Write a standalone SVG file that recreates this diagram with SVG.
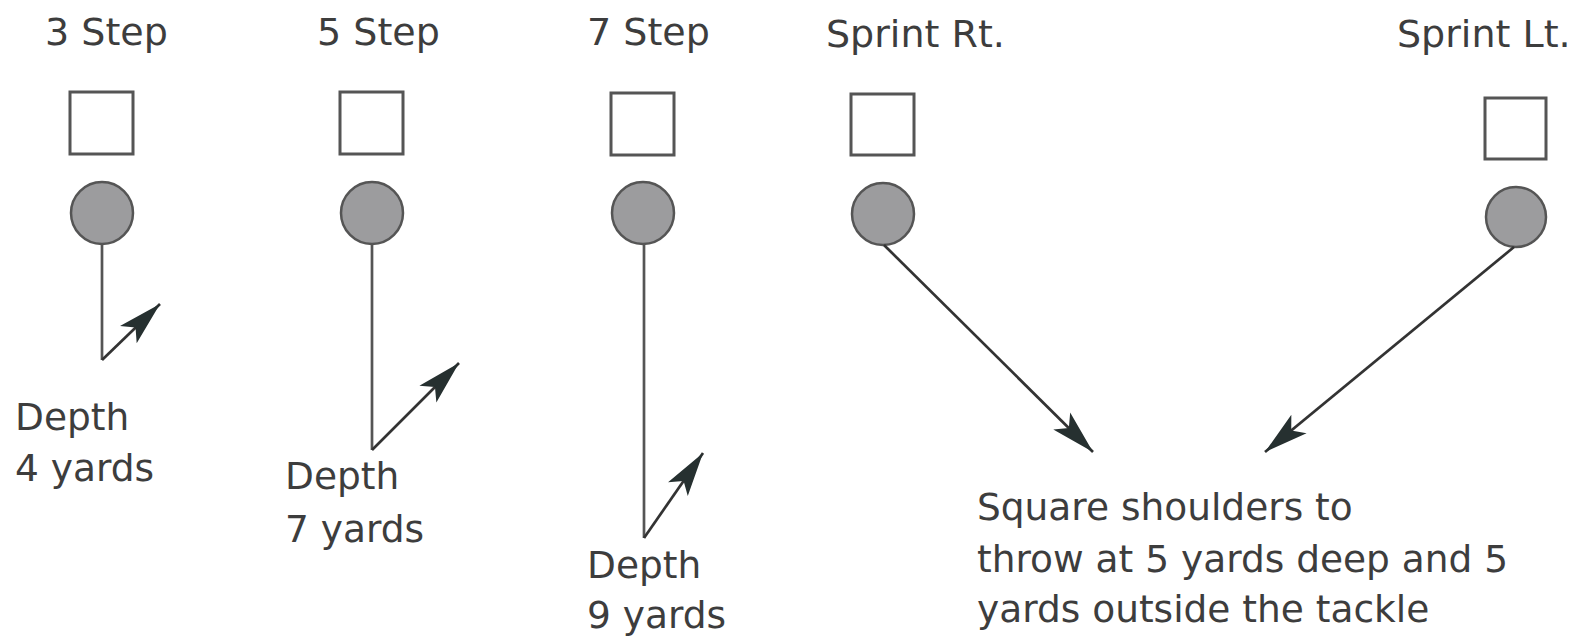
<svg xmlns="http://www.w3.org/2000/svg" width="1581" height="640" viewBox="0 0 1581 640">
<style>
text{font-family:"DejaVu Sans","Liberation Sans",sans-serif;fill:#3d3d3d;}
.t{font-size:38px;}
.b{font-size:37.5px;}
.sq{fill:#fff;stroke:#555;stroke-width:3;}
.pl{fill:#9c9c9e;stroke:#555;stroke-width:2.5;}
.ln{fill:none;stroke:#555;stroke-width:2.7;}
.ar{fill:none;stroke:#333;stroke-width:2.7;marker-end:url(#ah);}
</style>
<defs>
<marker id="ah" markerUnits="userSpaceOnUse" markerWidth="50" markerHeight="30" viewBox="-46 -15 50 30" refX="0" refY="0" orient="auto">
<path d="M0,0 L-44,-12 L-34,0 L-44,12 Z" fill="#263030"/>
</marker>
</defs>
<rect width="1581" height="640" fill="#fff"/>
<g id="step3">
<text class="t" x="45" y="45">3 Step</text>
<rect class="sq" x="70" y="92" width="63" height="62"/>
<circle class="pl" cx="102" cy="213" r="31"/>
<text class="b" x="15" y="430">Depth</text>
<text class="b" x="15" y="481">4 yards</text>
</g>
<g id="step5">
<text class="t" x="317" y="45">5 Step</text>
<rect class="sq" x="340" y="92" width="63" height="62"/>
<circle class="pl" cx="372" cy="213" r="31"/>
<text class="b" x="285" y="489">Depth</text>
<text class="b" x="285" y="542">7 yards</text>
</g>
<g id="step7">
<text class="t" x="587" y="45">7 Step</text>
<rect class="sq" x="611" y="93" width="63" height="62"/>
<circle class="pl" cx="643" cy="213" r="31"/>
<text class="b" x="587" y="578">Depth</text>
<text class="b" x="587" y="628">9 yards</text>
</g>
<g id="sprintRt">
<text class="t" x="826" y="47">Sprint Rt.</text>
<rect class="sq" x="851" y="94" width="63" height="61"/>
<circle class="pl" cx="883" cy="214" r="31"/>
</g>
<g id="sprintLt">
<text class="t" x="1397" y="47">Sprint Lt.</text>
<rect class="sq" x="1485" y="98" width="61" height="61"/>
<circle class="pl" cx="1516" cy="217" r="30"/>
</g>
<g id="note">
<text class="b" x="977" y="520">Square shoulders to</text>
<text class="b" x="977" y="572">throw at 5 yards deep and 5</text>
<text class="b" x="977" y="622">yards outside the tackle</text>
</g>
<g id="connectors">
<line class="ln" x1="102" y1="244" x2="102" y2="360"/>
<line class="ar" x1="102" y1="360" x2="160" y2="304"/>
<line class="ln" x1="372" y1="244" x2="372" y2="450"/>
<line class="ar" x1="372" y1="450" x2="459" y2="363"/>
<line class="ln" x1="644" y1="244" x2="644" y2="538"/>
<line class="ar" x1="644" y1="538" x2="703" y2="453"/>
<line class="ar" x1="884" y1="245" x2="1093" y2="452"/>
<line class="ar" x1="1514" y1="247" x2="1265" y2="452"/>
</g>
</svg>
